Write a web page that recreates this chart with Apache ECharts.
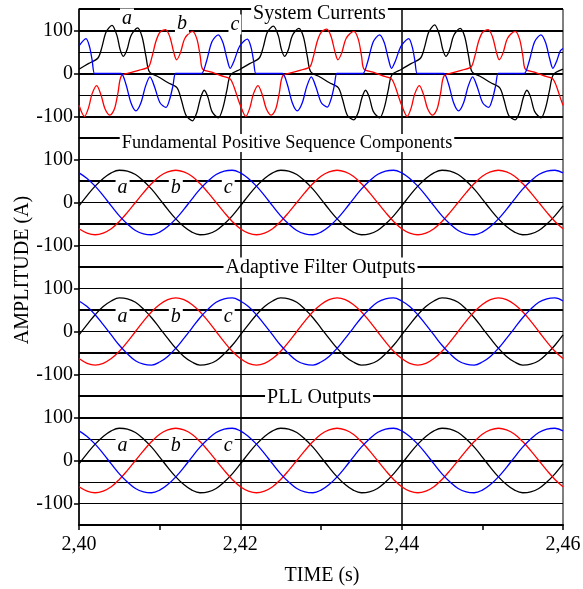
<!DOCTYPE html>
<html>
<head>
<meta charset="utf-8">
<script src="https://cdn.jsdelivr.net/npm/echarts@6/dist/echarts.min.js"></script>
<style>
html,body{margin:0;padding:0;background:#fff;}
#c{width:583px;height:589px;}
</style>
</head>
<body>
<div id="c"></div>
<script>
// ---------------- DATA ----------------
// time in milliseconds (2400 ms = 2,40 s)
const panelTitles = ['System Currents', 'Fundamental Positive Sequence Components', 'Adaptive Filter Outputs', 'PLL Outputs'];
const phaseNames = ['a', 'b', 'c'];
const xTickLabels = ['2,40', '2,42', '2,44', '2,46'];
const yTickValues = [-100, 0, 100];
const yAxisTitle = 'AMPLITUDE (A)';
const xAxisTitle = 'TIME (s)';

// System currents (phase a = black, b = red, c = blue): [time ms, amplitude A]
const curA = [
[2400.00,10],[2401.16,23],[2402.35,36],[2402.85,62],[2403.35,96],[2404.09,112],[2404.71,88],[2405.08,57],[2405.49,40],[2405.95,55],[2406.44,88],[2407.25,106],[2407.81,86],[2408.30,40],[2408.73,4],[2409.87,-8],[2411.00,-21],[2412.14,-33],[2412.64,-58],[2413.26,-97],[2414.06,-110],[2414.62,-90],[2415.05,-58],[2415.52,-39],[2415.98,-55],[2416.48,-88],[2417.28,-103],[2417.84,-80],[2418.34,-38],[2418.79,-3],
[2420.00,10],[2421.16,23],[2422.35,36],[2422.85,62],[2423.35,96],[2424.09,110],[2424.71,88],[2425.08,57],[2425.49,40],[2425.95,55],[2426.44,88],[2427.25,105],[2427.81,86],[2428.30,40],[2428.73,4],[2429.87,-8],[2431.00,-21],[2432.14,-33],[2432.64,-58],[2433.26,-97],[2434.06,-108],[2434.62,-90],[2435.05,-58],[2435.52,-39],[2435.98,-55],[2436.48,-88],[2437.28,-103],[2437.84,-80],[2438.34,-38],[2438.79,-3],
[2440.00,10],[2441.16,23],[2442.35,36],[2442.85,62],[2443.35,96],[2444.09,113],[2444.71,88],[2445.08,57],[2445.49,40],[2445.95,55],[2446.44,88],[2447.25,105],[2447.81,86],[2448.30,40],[2448.73,4],[2449.87,-8],[2451.00,-21],[2452.14,-33],[2452.64,-58],[2453.26,-97],[2454.06,-108],[2454.62,-90],[2455.05,-58],[2455.52,-39],[2455.98,-55],[2456.48,-88],[2457.28,-103],[2457.84,-80],[2458.34,-38],[2458.79,-3],
[2460.00,10]
];
const curB = [
[2400.00,-74],[2400.68,-100],[2401.18,-80],[2401.61,-48],[2402.19,-28],[2402.73,-50],[2403.22,-82],[2403.84,-97],[2404.40,-82],[2404.83,-45],[2405.27,-5],[2406.38,2],[2407.50,8],[2408.61,15],[2409.04,38],[2409.54,75],[2410.04,96],[2410.72,102],[2411.27,85],[2411.71,52],[2412.10,32],[2412.57,48],[2413.13,82],[2414.06,98],[2414.62,80],[2415.03,40],[2415.33,10],[2416.46,3],[2417.58,-5],[2418.71,-12],[2419.20,-30],[2419.64,-55],
[2420.00,-74],[2420.68,-100],[2421.18,-80],[2421.61,-48],[2422.19,-28],[2422.73,-50],[2423.22,-82],[2423.84,-97],[2424.40,-82],[2424.83,-45],[2425.27,-5],[2426.38,2],[2427.50,8],[2428.61,15],[2429.04,38],[2429.54,75],[2430.04,96],[2430.72,103],[2431.27,85],[2431.71,52],[2432.10,32],[2432.57,48],[2433.13,82],[2434.06,98],[2434.62,80],[2435.03,40],[2435.33,10],[2436.46,3],[2437.58,-5],[2438.71,-12],[2439.20,-30],[2439.64,-55],
[2440.00,-74],[2440.68,-100],[2441.18,-80],[2441.61,-48],[2442.19,-28],[2442.73,-50],[2443.22,-82],[2443.84,-97],[2444.40,-82],[2444.83,-45],[2445.27,-5],[2446.38,2],[2447.50,8],[2448.61,15],[2449.04,38],[2449.54,75],[2450.04,96],[2450.72,102],[2451.27,85],[2451.71,52],[2452.10,32],[2452.57,48],[2453.13,82],[2454.06,98],[2454.62,80],[2455.03,40],[2455.33,10],[2456.46,3],[2457.58,-5],[2458.71,-12],[2459.20,-30],[2459.64,-55],
[2460.00,-74]
];
const curC = [
[2400.00,64],[2400.87,81],[2401.31,62],[2401.62,32],[2401.92,0],[2402.30,0],[2404.86,0],[2405.24,0],[2405.82,-25],[2406.44,-68],[2407.06,-87],[2407.68,-68],[2408.24,-30],[2408.80,-8],[2409.35,-30],[2410.04,-68],[2410.78,-79],[2411.27,-58],[2411.65,-28],[2411.96,0],[2412.34,0],[2414.82,0],[2415.20,0],[2415.80,28],[2416.48,74],[2417.26,90],[2417.84,72],[2418.34,35],[2418.75,12],[2419.20,28],[2419.65,52],
[2420.00,66],[2420.87,80],[2421.31,62],[2421.62,32],[2421.92,0],[2422.30,0],[2424.86,0],[2425.24,0],[2425.82,-25],[2426.44,-68],[2427.06,-87],[2427.68,-68],[2428.24,-30],[2428.80,-8],[2429.35,-30],[2430.04,-68],[2430.78,-78],[2431.27,-58],[2431.65,-28],[2431.96,0],[2432.34,0],[2434.82,0],[2435.20,0],[2435.80,28],[2436.48,74],[2437.26,90],[2437.84,72],[2438.34,35],[2438.75,12],[2439.20,28],[2439.65,52],
[2440.00,66],[2440.87,81],[2441.31,62],[2441.62,32],[2441.92,0],[2442.30,0],[2444.86,0],[2445.24,0],[2445.82,-25],[2446.44,-68],[2447.06,-87],[2447.68,-68],[2448.24,-30],[2448.80,-8],[2449.35,-30],[2450.04,-68],[2450.78,-79],[2451.27,-58],[2451.65,-28],[2451.96,0],[2452.34,0],[2454.82,0],[2455.20,0],[2455.80,28],[2456.48,74],[2457.26,90],[2457.84,72],[2458.34,35],[2458.75,12],[2459.20,28],[2459.65,52],
[2460.00,58]
];

// sampling instants (ms) for the sinusoidal panels
const timeSine = [2400,2401,2402,2403,2404,2405,2406,2407,2408,2409,2410,2411,2412,2413,2414,2415,2416,2417,2418,2419,
2420,2421,2422,2423,2424,2425,2426,2427,2428,2429,2430,2431,2432,2433,2434,2435,2436,2437,2438,2439,
2440,2441,2442,2443,2444,2445,2446,2447,2448,2449,2450,2451,2452,2453,2454,2455,2456,2457,2458,2459,2460];

// Fundamental positive sequence components
const fundA = [-8,16,38,56,69,75,73,65,50,31,8,-16,-38,-56,-69,-75,-73,-65,-50,-31,
-8,16,38,56,69,75,73,65,50,31,8,-16,-38,-56,-69,-75,-73,-65,-50,-31,
-8,16,38,56,69,75,73,65,50,31,8,-16,-38,-56,-69,-75,-73,-65,-50,-31,-8];
const fundB = [-61,-71,-75,-71,-61,-44,-23,0,23,44,61,71,75,71,61,44,23,0,-23,-44,
-61,-71,-75,-71,-61,-44,-23,0,23,44,61,71,75,71,61,44,23,0,-23,-44,
-61,-71,-75,-71,-61,-44,-23,0,23,44,61,71,75,71,61,44,23,0,-23,-44,-61];
const fundC = [69,56,38,16,-8,-31,-50,-65,-73,-75,-69,-56,-38,-16,8,31,50,65,73,75,
69,56,38,16,-8,-31,-50,-65,-73,-75,-69,-56,-38,-16,8,31,50,65,73,75,
69,56,38,16,-8,-31,-50,-65,-73,-75,-69,-56,-38,-16,8,31,50,65,73,75,69];

// Adaptive filter outputs
const filtA = [-8,16,39,58,71,78,76,68,52,32,8,-16,-39,-58,-71,-78,-76,-68,-52,-32,
-8,16,39,58,71,78,76,68,52,32,8,-16,-39,-58,-71,-78,-76,-68,-52,-32,
-8,16,39,58,71,78,76,68,52,32,8,-16,-39,-58,-71,-78,-76,-68,-52,-32,-8];
const filtB = [-63,-74,-78,-74,-63,-46,-24,0,24,46,63,74,78,74,63,46,24,0,-24,-46,
-63,-74,-78,-74,-63,-46,-24,0,24,46,63,74,78,74,63,46,24,0,-24,-46,
-63,-74,-78,-74,-63,-46,-24,0,24,46,63,74,78,74,63,46,24,0,-24,-46,-63];
const filtC = [71,58,39,16,-8,-32,-52,-68,-76,-78,-71,-58,-39,-16,8,32,52,68,76,78,
71,58,39,16,-8,-32,-52,-68,-76,-78,-71,-58,-39,-16,8,32,52,68,76,78,
71,58,39,16,-8,-32,-52,-68,-76,-78,-71,-58,-39,-16,8,32,52,68,76,78,71];

// PLL outputs
const pllA = [-8,16,38,56,69,75,73,65,50,31,8,-16,-38,-56,-69,-75,-73,-65,-50,-31,
-8,16,38,56,69,75,73,65,50,31,8,-16,-38,-56,-69,-75,-73,-65,-50,-31,
-8,16,38,56,69,75,73,65,50,31,8,-16,-38,-56,-69,-75,-73,-65,-50,-31,-8];
const pllB = [-61,-71,-75,-71,-61,-44,-23,0,23,44,61,71,75,71,61,44,23,0,-23,-44,
-61,-71,-75,-71,-61,-44,-23,0,23,44,61,71,75,71,61,44,23,0,-23,-44,
-61,-71,-75,-71,-61,-44,-23,0,23,44,61,71,75,71,61,44,23,0,-23,-44,-61];
const pllC = [69,56,38,16,-8,-31,-50,-65,-73,-75,-69,-56,-38,-16,8,31,50,65,73,75,
69,56,38,16,-8,-31,-50,-65,-73,-75,-69,-56,-38,-16,8,31,50,65,73,75,
69,56,38,16,-8,-31,-50,-65,-73,-75,-69,-56,-38,-16,8,31,50,65,73,75,69];

// where the phase letters sit (time ms, amplitude)
const labelTimes1 = [2405.95, 2412.76, 2419.33];
const labelAmps1 = [128, 116, 114];
const labelTimes = [2405.4, 2412.0, 2418.5];
const labelAmps = [35, 35, 35];

// reference grid levels and vertical reference times
const gridLevels = [150, 100, 50, 0, -50, -100];
const vLineTimes = [2420, 2440];

// ---------------- BUILD ----------------
const FONT = '"Liberation Serif", "Times New Roman", serif';
const colors = ['#000000', '#ff0000', '#0000ff'];
const PANEL_TOP = 9, PANEL_H = 129, LEFT = 79, WIDTH = 484;
const levelWidths = [
  [2, 2, 1, 2, 1, 2],
  [2, 1, 2, 1, 2, 1],
  [2, 1, 2, 1, 2, 1],
  [2, 2, 1, 2, 1, 1]
];
const titlePos = [
  {x: 319.5, y: 13.5, size: 20},
  {x: 287, y: 143, size: 18.3},
  {x: 320.5, y: 267.5, size: 20},
  {x: 319, y: 398, size: 20}
];

const pairs = (ts, vs) => ts.map((t, i) => [t, vs[i]]);
const panelData = [
  [curA, curB, curC],
  [pairs(timeSine, fundA), pairs(timeSine, fundB), pairs(timeSine, fundC)],
  [pairs(timeSine, filtA), pairs(timeSine, filtB), pairs(timeSine, filtC)],
  [pairs(timeSine, pllA), pairs(timeSine, pllB), pairs(timeSine, pllC)]
];

const grid = [], xAxis = [], yAxis = [], series = [], graphic = [];
for (let p = 0; p < 4; p++) {
  grid.push({left: LEFT, top: PANEL_TOP + PANEL_H * p, width: WIDTH, height: PANEL_H,
    show: true, borderColor: '#000', borderWidth: 1, backgroundColor: 'transparent', outerBoundsMode: 'none'});
  const last = p === 3;
  xAxis.push({
    type: 'value', gridIndex: p, min: 2400, max: 2460, interval: 10,
    axisLine: {show: last, onZero: false, lineStyle: {color: '#000', width: 2}},
    axisTick: {show: last, length: 5, lineStyle: {color: '#000', width: 1.5}},
    axisLabel: {show: last, margin: 10, color: '#000', fontFamily: FONT, fontSize: 20,
      formatter: v => { const k = Math.round(v - 2400); return k % 20 === 0 ? xTickLabels[k / 20] : ''; }},
    splitLine: {show: false}
  });
  yAxis.push({
    type: 'value', gridIndex: p, min: -150, max: 150, interval: 50,
    axisLine: {show: true, onZero: false, lineStyle: {color: '#000', width: 1.5}},
    axisTick: {show: true, length: 5, customValues: yTickValues, lineStyle: {color: '#000', width: 1.5}},
    axisLabel: {show: true, margin: 6, color: '#000', fontFamily: FONT, fontSize: 20, customValues: yTickValues,
      formatter: v => (yTickValues.indexOf(v) >= 0 ? String(v) : '')},
    splitLine: {show: false}
  });
  const mlData = gridLevels.map((lv, i) => ({yAxis: lv, lineStyle: {color: '#000', width: levelWidths[p][i], type: 'solid'}}))
    .concat(vLineTimes.map(t => ({xAxis: t, lineStyle: {color: '#000', width: 1.5, type: 'solid'}})));
  panelData[p].forEach((d, k) => {
    const s = {
      type: 'line', xAxisIndex: p, yAxisIndex: p, data: d, showSymbol: false, symbol: 'none',
      smooth: p === 0 ? 0.3 : 0.4, lineStyle: {color: colors[k], width: 1.3}, itemStyle: {color: colors[k]},
      z: 3, silent: true, animation: false
    };
    if (k === 0) {
      s.markLine = {silent: true, symbol: ['none', 'none'], z: 1, animation: false, label: {show: false},
        emphasis: {disabled: true}, data: mlData};
    }
    series.push(s);
  });
  const lt = p === 0 ? labelTimes1 : labelTimes;
  const la = p === 0 ? labelAmps1 : labelAmps;
  series.push({
    type: 'scatter', xAxisIndex: p, yAxisIndex: p, symbolSize: 0, z: 10, silent: true, animation: false,
    itemStyle: {color: '#000', opacity: 1},
    data: lt.map((t, i) => [t, la[i], phaseNames[i]]),
    label: {show: true, position: 'inside', formatter: q => q.value[2], color: '#000', opacity: 1,
      fontFamily: FONT, fontStyle: 'italic', fontSize: 20, lineHeight: 20, textBorderWidth: 0,
      backgroundColor: '#fff', padding: [0, 2]}
  });
  graphic.push({type: 'text', x: titlePos[p].x, y: titlePos[p].y, z: 100, silent: true,
    style: {text: panelTitles[p], font: titlePos[p].size + 'px ' + FONT, fill: '#000',
      align: 'center', verticalAlign: 'middle', textAlign: 'center', textVerticalAlign: 'middle',
      backgroundColor: '#fff', padding: [0, 2]}});
}
graphic.push({type: 'text', x: 23, y: 270, rotation: Math.PI / 2, z: 100, silent: true,
  style: {text: yAxisTitle, font: '20px ' + FONT, fill: '#000', align: 'center', verticalAlign: 'middle',
    textAlign: 'center', textVerticalAlign: 'middle'}});
graphic.push({type: 'text', x: 322, y: 576, z: 100, silent: true,
  style: {text: xAxisTitle, font: '20px ' + FONT, fill: '#000', align: 'center', verticalAlign: 'middle',
    textAlign: 'center', textVerticalAlign: 'middle'}});

const chart = echarts.init(document.getElementById('c'), null, {renderer: 'canvas'});
chart.setOption({
  animation: false,
  backgroundColor: '#fff',
  grid, xAxis, yAxis, series, graphic
});
</script>
</body>
</html>
